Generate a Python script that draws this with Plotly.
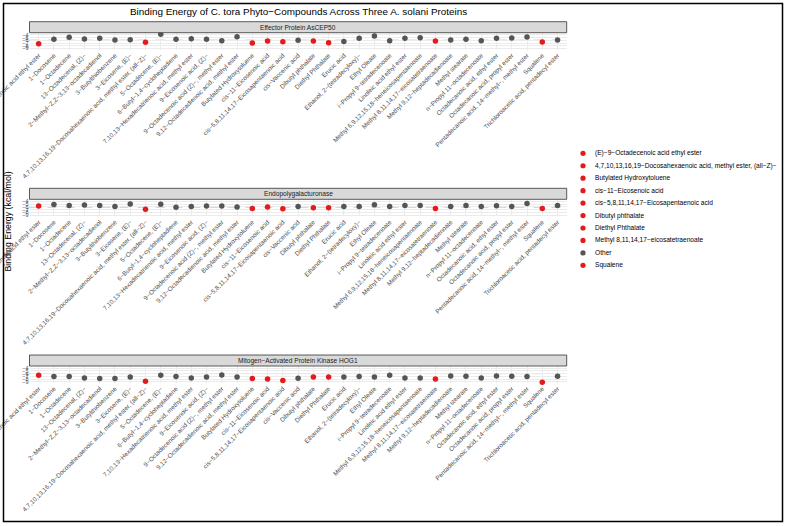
import plotly.graph_objects as go

W, H = 785, 526

compounds = [
    "(E)−9−Octadecenoic acid ethyl ester", "1−Docosene", "1−Octadecene",
    "13−Octadecenal, (Z)−", "2−Methyl−Z,Z−3,13−octadecadienol", "3−Butylthiobenzene",
    "3−Eicosene, (E)−", "4,7,10,13,16,19−Docosahexaenoic acid, methyl ester, (all−Z)−",
    "5−Octadecene, (E)−", "6−Butyl−1,4−cycloheptadiene",
    "7,10,13−Hexadecatrienoic acid, methyl ester", "9−Eicosenoic acid, (Z)−",
    "9−Octadecenoic acid (Z)−, methyl ester", "9,12−Octadecadienoic acid, methyl ester",
    "Butylated Hydroxytoluene", "cis−11−Eicosenoic acid",
    "cis−5,8,11,14,17−Eicosapentaenoic acid", "cis−Vaccenic acid", "Dibutyl phthalate",
    "Diethyl Phthalate", "Erucic acid", "Ethanol, 2−(tetradecyloxy)−", "Ethyl Oleate",
    "i−Propyl 9−tetradecenoate", "Linoleic acid ethyl ester",
    "Methyl 6,9,12,15,18−heneicosapentaenoate", "Methyl 8,11,14,17−eicosatetraenoate",
    "Methyl 9,12−heptadecadienoate", "Methyl stearate", "n−Propyl 11−octadecenoate",
    "Octadecanoic acid, ethyl ester", "Octadecanoic acid, propyl ester",
    "Pentadecanoic acid, 14−methyl−, methyl ester", "Squalene",
    "Trichloroacetic acid, pentadecyl ester",
]

highlighted = [
    "(E)−9−Octadecenoic acid ethyl ester",
    "4,7,10,13,16,19−Docosahexaenoic acid, methyl ester, (all−Z)−",
    "Butylated Hydroxytoluene", "cis−11−Eicosenoic acid",
    "cis−5,8,11,14,17−Eicosapentaenoic acid", "Dibutyl phthalate",
    "Diethyl Phthalate", "Methyl 8,11,14,17−eicosatetraenoate", "Squalene",
]

legend_labels = [
    "(E)−9−Octadecenoic acid ethyl ester",
    "4,7,10,13,16,19−Docosahexaenoic acid, methyl ester, (all−Z)−",
    "Butylated Hydroxytoluene", "cis−11−Eicosenoic acid",
    "cis−5,8,11,14,17−Eicosapentaenoic acid", "Dibutyl phthalate",
    "Diethyl Phthalate", "Methyl 8,11,14,17−eicosatetraenoate", "Other", "Squalene",
]

proteins = ["Effector Protein AsCEP50", "Endopolygalacturonase",
            "Mitogen−Activated Protein Kinase HOG1"]

energy_ascep50 = [-7.26, -5.63, -4.89, -5.52, -5.26, -5.89, -5.78, -6.74, -3.78, -5.63,
                  -5.41, -5.63, -6.15, -4.67, -7.0, -6.26, -6.52, -6.0, -6.26, -6.89,
                  -6.4, -5.26, -4.4, -6.2, -5.26, -5.04, -6.26, -5.89, -5.63, -6.15,
                  -5.26, -5.15, -4.78, -6.6, -5.9]
energy_endopg = [-5.63, -5.15, -5.52, -5.26, -5.52, -5.89, -4.89, -6.89, -5.04, -6.15,
                 -5.89, -5.63, -5.63, -6.0, -6.63, -6.0, -6.7, -5.9, -6.3, -6.3,
                 -5.9, -5.9, -5.2, -5.9, -5.5, -5.5, -6.6, -5.9, -5.5, -5.9,
                 -5.6, -5.9, -4.7, -6.6, -5.5]
energy_hog1 = [-6.63, -7.11, -7.11, -7.63, -7.85, -7.85, -7.26, -8.85, -6.63, -7.11,
               -7.63, -7.26, -6.52, -7.26, -7.85, -8.0, -8.59, -7.74, -7.26, -7.26,
               -7.26, -7.11, -7.26, -6.63, -7.63, -7.63, -8.0, -6.89, -7.0, -7.63,
               -6.89, -7.0, -7.11, -9.2, -7.0]

threshold = -6
y_range = [-9.48, -3.19]
y_ticks = [-4, -5, -6, -7, -8, -9]

RED = "#E41A1C"
GREY = "#555555"
FONT = "Liberation Sans"

# geometry in pixels
px_left, px_right = 29.5, 566.7
strip_tops = [21.7, 188.3, 355.0]
strip_h = 11.0
plot_h = 17.0


def fx(x):
    return x / W


def fy(y):
    return 1 - y / H


fig = go.Figure()
series = [energy_ascep50, energy_endopg, energy_hog1]

for r, vals in enumerate(series):
    sfx = "" if r == 0 else str(r + 1)
    for grp, col in (("Other", GREY), ("Highlighted", RED)):
        xs = [c for c in compounds if (c in highlighted) == (grp == "Highlighted")]
        ys = [v for c, v in zip(compounds, vals) if (c in highlighted) == (grp == "Highlighted")]
        fig.add_trace(go.Scatter(
            x=xs, y=ys, mode="markers", xaxis="x" + sfx, yaxis="y" + sfx,
            marker=dict(color=col, size=5.5), showlegend=False, name=grp,
            cliponaxis=False,
        ))
    top = strip_tops[r] + strip_h
    bottom = top + plot_h
    axis_x = dict(
        domain=[fx(px_left), fx(px_right)], anchor="y" + sfx,
        categoryorder="array", categoryarray=compounds,
        range=[-0.6, len(compounds) - 0.4], tickangle=-45,
        tickfont=dict(family=FONT, size=6.3, color="#4D4D4D"),
        showgrid=True, gridcolor="#EBEBEB", gridwidth=1, ticks="",
        showline=False, zeroline=False, automargin=False,
        tickmode="array", tickvals=compounds,
    )
    axis_y = dict(
        domain=[fy(bottom), fy(top)], anchor="x" + sfx, range=y_range,
        tickvals=y_ticks, tickfont=dict(family=FONT, size=5.5, color="#4D4D4D"),
        showgrid=True, gridcolor="#EBEBEB", gridwidth=1, ticks="",
        zeroline=False, showline=False, automargin=False,
    )
    fig.update_layout(**{"xaxis" + sfx: axis_x, "yaxis" + sfx: axis_y})
    # dashed reference line
    fig.add_shape(type="line", xref="x" + sfx + " domain", yref="y" + sfx,
                  x0=0, x1=1, y0=threshold, y1=threshold,
                  line=dict(color="#8C8C8C", width=0.9, dash="dash"), layer="below")
    # strip
    fig.add_shape(type="rect", xref="paper", yref="paper",
                  x0=fx(px_left), x1=fx(px_right),
                  y0=fy(strip_tops[r] + strip_h), y1=fy(strip_tops[r]),
                  fillcolor="#D9D9D9", line=dict(color="#333333", width=0.8))
    fig.add_annotation(xref="paper", yref="paper",
                       x=fx((px_left + px_right) / 2), y=fy(strip_tops[r] + strip_h / 2),
                       text=proteins[r], showarrow=False, xanchor="center", yanchor="middle",
                       font=dict(family=FONT, size=6.6, color="#1A1A1A"))

# manual legend
leg_y0, leg_dy = 153.3, 12.45
for i, lab in enumerate(legend_labels):
    yy = leg_y0 + i * leg_dy
    col = GREY if lab == "Other" else RED
    fig.add_shape(type="circle", xref="paper", yref="paper",
                  xsizemode="pixel", ysizemode="pixel",
                  xanchor=fx(583), yanchor=fy(yy), x0=-2.6, x1=2.6, y0=-2.6, y1=2.6,
                  fillcolor=col, line=dict(width=0))
    fig.add_annotation(xref="paper", yref="paper", x=fx(593), y=fy(yy), text=lab,
                       showarrow=False, xanchor="left", yanchor="middle",
                       font=dict(family=FONT, size=6.6, color="#000000"))

# title
fig.add_annotation(xref="paper", yref="paper", x=fx((px_left + px_right) / 2), y=fy(12),
                   text="Binding Energy of C. tora Phyto−Compounds Across Three A. solani Proteins",
                   showarrow=False, xanchor="center", yanchor="middle",
                   font=dict(family=FONT, size=9.9, color="#000000"))
# y title
fig.add_annotation(xref="paper", yref="paper", x=fx(7.5), y=fy(222),
                   text="Binding Energy (kcal/mol)", textangle=-90, showarrow=False,
                   xanchor="center", yanchor="middle",
                   font=dict(family=FONT, size=8.8, color="#000000"))

# outer frame
fig.add_shape(type="rect", xref="paper", yref="paper",
              x0=fx(3.5), x1=fx(782.5), y0=fy(521.5), y1=fy(3.5),
              line=dict(color="#000000", width=1.5), fillcolor="rgba(0,0,0,0)")

fig.update_layout(
    width=W, height=H, margin=dict(l=0, r=0, t=0, b=0),
    paper_bgcolor="white", plot_bgcolor="white", showlegend=False,
)

fig.write_html("out.html")
